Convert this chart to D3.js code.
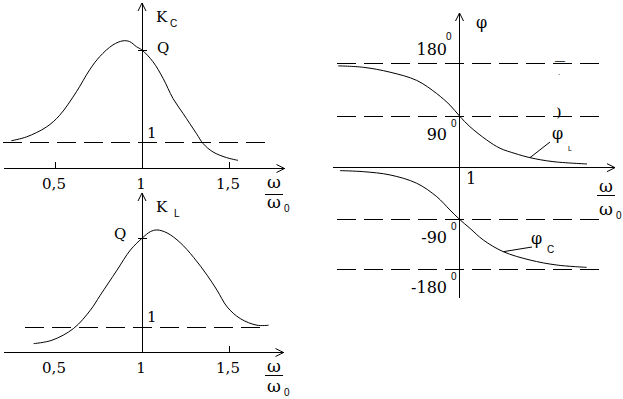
<!DOCTYPE html>
<html>
<head>
<meta charset="utf-8">
<script src="https://cdn.jsdelivr.net/npm/d3@7"></script>
<style>
  body { margin: 0; background: #fff; }
  svg { display: block; }
  text { fill: #000; }
</style>
</head>
<body>
<script>
// K_C(w/w0) curve
var kcW   = [0.249, 0.336, 0.451, 0.527, 0.623, 0.699, 0.757, 0.833, 0.891, 0.929, 0.968, 1.0, 1.063, 1.121, 1.178, 1.236, 1.313, 1.351, 1.408, 1.485, 1.552];
var kcVal = [1.07, 1.22, 1.61, 2.07, 2.99, 3.85, 4.37, 4.83, 4.99, 4.96, 4.76, 4.63, 4.17, 3.52, 2.73, 2.14, 1.35, 0.96, 0.63, 0.41, 0.30];

// K_L(w/w0) curve
var klW   = [0.377, 0.483, 0.607, 0.703, 0.760, 0.856, 0.933, 1.0, 1.048, 1.086, 1.144, 1.220, 1.297, 1.374, 1.431, 1.489, 1.565, 1.661, 1.728];
var klVal = [0.34, 0.48, 0.96, 1.70, 2.31, 3.33, 4.15, 4.63, 4.90, 4.97, 4.85, 4.45, 3.85, 3.13, 2.52, 1.84, 1.36, 1.09, 1.09];

// phase curves (degrees)
var phiLW = [0.303, 0.447, 0.601, 0.754, 0.869, 0.945, 1.0, 1.060, 1.156, 1.233, 1.319, 1.405, 1.537, 1.733];
var phiL  = [175.6, 173.2, 164.8, 150.8, 128.3, 108.6, 90, 71.4, 48.3, 33.8, 24.7, 17.4, 10.5, 6.4];
var phiCW = [0.313, 0.447, 0.601, 0.754, 0.869, 0.945, 1.0, 1.060, 1.137, 1.252, 1.405, 1.559, 1.731];
var phiC  = [-5.2, -7.0, -12.7, -27.2, -50.5, -73.7, -90, -106.2, -127.3, -148.3, -163.3, -172.3, -176.5];

var Q = 4.63;
var kTicks = [0.5, 1, 1.5];
var kTickLabels = ["0,5", "1", "1,5"];
var phaseLevels = [180, 90, -90, -180];
var phaseLabels = ["180", "90", "-90", "-180"];

var width = 623, height = 399;
var serif = "'DejaVu Serif', 'Liberation Serif', serif";
var sans = "'Liberation Sans', Arial, sans-serif";

var svg = d3.select("body").append("svg")
    .attr("width", width)
    .attr("height", height);

// open arrow head
svg.append("defs").append("marker")
    .attr("id", "arr")
    .attr("markerUnits", "userSpaceOnUse")
    .attr("markerWidth", 10).attr("markerHeight", 10)
    .attr("refX", 8).attr("refY", 4)
    .attr("orient", "auto")
    .style("overflow", "visible")
  .append("path")
    .attr("d", "M0,0L8,4L0,8")
    .attr("fill", "none")
    .attr("stroke", "#000");

function zip(xs, ys) { return xs.map(function(x, i) { return [x, ys[i]]; }); }

function fraction(x, yNum, yBar, yDen) {
  svg.append("text").attr("x", x).attr("y", yNum)
     .attr("text-anchor", "middle").style("font", "17px " + serif).text("ω");
  svg.append("line").attr("x1", x - 9).attr("x2", x + 9).attr("y1", yBar).attr("y2", yBar)
     .attr("stroke", "#000").attr("shape-rendering", "crispEdges");
  svg.append("text").attr("x", x).attr("y", yDen)
     .attr("text-anchor", "middle").style("font", "17px " + serif).text("ω");
  svg.append("text").attr("x", x + 10).attr("y", yDen + 4)
     .style("font", "10px " + sans).text("0");
}

/* ---------- amplitude panels ---------- */
function kPanel(o) {
  var x = d3.scaleLinear().domain([0.5, 1.5]).range([55, 229]);
  var y = d3.scaleLinear().domain([0, Q]).range([o.base, o.qY]);
  var g = svg.append("g");

  // dashed level 1
  g.append("line")
    .attr("x1", o.dash[0]).attr("x2", o.dash[1])
    .attr("y1", y(1)).attr("y2", y(1))
    .attr("stroke", "#000").attr("stroke-dasharray", "19,8")
    .attr("shape-rendering", "crispEdges");

  // x axis with ticks upward
  var xAxis = d3.axisBottom(x.copy().domain([x.invert(3), x.invert(o.xEnd)]).range([3, o.xEnd]))
    .tickValues(kTicks)
    .tickSizeInner(-6).tickSizeOuter(0).tickPadding(10)
    .tickFormat(function(d, i) { return kTickLabels[i]; });
  var ax = g.append("g").attr("transform", "translate(0," + o.base + ")").call(xAxis);
  ax.select(".domain").attr("marker-end", "url(#arr)").attr("shape-rendering", "crispEdges");
  ax.selectAll(".tick line").attr("shape-rendering", "crispEdges");
  ax.selectAll(".tick text").style("font", "15px " + serif).attr("dx", "-0.1em");
  if (o.hideHalf) ax.selectAll(".tick").filter(function(d) { return d === 0.5; }).select("line").remove();

  // y axis
  g.append("line")
    .attr("x1", x(1)).attr("x2", x(1))
    .attr("y1", o.base).attr("y2", o.top)
    .attr("stroke", "#000").attr("marker-end", "url(#arr)")
    .attr("shape-rendering", "crispEdges");
  // Q tick
  g.append("line")
    .attr("x1", x(1) - 4).attr("x2", x(1) + 5)
    .attr("y1", y(Q)).attr("y2", y(Q))
    .attr("stroke", "#000").attr("shape-rendering", "crispEdges");

  // curve
  g.append("path")
    .datum(zip(o.w, o.v))
    .attr("d", d3.line().x(function(d) { return x(d[0]); }).y(function(d) { return y(d[1]); }).curve(d3.curveCatmullRom))
    .attr("fill", "none").attr("stroke", "#000").attr("stroke-width", 1);

  // labels
  g.append("text").attr("x", 156).attr("y", o.top + 19).style("font", "15px " + serif).text("K");
  g.append("text").attr("x", o.subX).attr("y", o.top + 24).style("font", "10px " + sans).text(o.sub);
  g.append("text").attr("x", o.qX).attr("y", y(Q) + o.qDy).style("font", "15px " + serif).text("Q");
  g.append("text").attr("x", 147).attr("y", y(1) - 5).style("font", "15px " + serif).text("1");

  fraction(274, o.frac[0], o.frac[1], o.frac[2]);
}

kPanel({ base: 168, qY: 50, top: 3, xEnd: 284, dash: [3, 267], w: kcW, v: kcVal,
         sub: "C", subX: 170, qX: 157, qDy: 3, frac: [188, 194, 208], hideHalf: false });
kPanel({ base: 352, qY: 238.3, top: 193, xEnd: 283, dash: [25, 263], w: klW, v: klVal,
         sub: "L", subX: 174, qX: 114, qDy: 1, frac: [372, 375, 392], hideHalf: true });

/* ---------- phase panel ---------- */
var xR = d3.scaleLinear().domain([0, 1]).range([459.5 - 174, 459.5]);
var yR = d3.scaleLinear().domain([-180, -90, 90, 180]).range([269.3, 219.3, 116, 63.3]);
var gR = svg.append("g");

gR.selectAll(".lvl")
  .data(phaseLevels)
  .enter().append("line")
    .attr("class", "lvl")
    .attr("x1", 337).attr("x2", 604)
    .attr("y1", function(d) { return yR(d); }).attr("y2", function(d) { return yR(d); })
    .attr("stroke", "#000").attr("stroke-dasharray", "19,8")
    .attr("shape-rendering", "crispEdges");

// x axis
gR.append("line")
  .attr("x1", 333).attr("x2", 615)
  .attr("y1", yR(0)).attr("y2", yR(0))
  .attr("stroke", "#000").attr("marker-end", "url(#arr)")
  .attr("shape-rendering", "crispEdges");
// y axis
gR.append("line")
  .attr("x1", xR(1)).attr("x2", xR(1))
  .attr("y1", 298).attr("y2", 13)
  .attr("stroke", "#000").attr("marker-end", "url(#arr)")
  .attr("shape-rendering", "crispEdges");

var lineR = d3.line().x(function(d) { return xR(d[0]); }).y(function(d) { return yR(d[1]); }).curve(d3.curveCatmullRom);
gR.append("path").datum(zip(phiLW, phiL)).attr("d", lineR)
  .attr("fill", "none").attr("stroke", "#000");
gR.append("path").datum(zip(phiCW, phiC)).attr("d", lineR)
  .attr("fill", "none").attr("stroke", "#000");

// level labels with degree "0"
gR.selectAll(".plab")
  .data(phaseLevels)
  .enter().append("text")
    .attr("class", "plab")
    .attr("x", 447)
    .attr("y", function(d) { return d === 180 ? yR(d) - 8 : yR(d) + 24; })
    .attr("text-anchor", "end")
    .style("font", "16px " + serif)
    .text(function(d, i) { return phaseLabels[i]; });
gR.selectAll(".pdeg")
  .data(phaseLevels)
  .enter().append("text")
    .attr("class", "pdeg")
    .attr("x", function(d) { return d === 180 ? 446 : 451; })
    .attr("y", function(d) { return d === 180 ? yR(d) - 23 : yR(d) + 11; })
    .style("font", "10px " + sans)
    .text("0");

gR.append("text").attr("x", 476).attr("y", 28).style("font", "16px " + serif).text("φ");
gR.append("text").attr("x", 466).attr("y", yR(0) + 16).style("font", "16px " + serif).text("1");

// curve tags
gR.append("line").attr("x1", xR(1.405)).attr("y1", yR(17.4)).attr("x2", 550).attr("y2", 142).attr("stroke", "#000");
gR.append("text").attr("x", 552).attr("y", 139).style("font", "16px " + serif).text("φ");
gR.append("text").attr("x", 568).attr("y", 151).style("font", "7px " + sans).text("L");
gR.append("line").attr("x1", xR(1.252)).attr("y1", yR(-148.3)).attr("x2", 532).attr("y2", 247).attr("stroke", "#000");
gR.append("text").attr("x", 531).attr("y", 244).style("font", "16px " + serif).text("φ");
gR.append("text").attr("x", 547).attr("y", 253).style("font", "10px " + sans).text("C");

// stray marks at the right edge
gR.append("text").attr("x", 555).attr("y", 64).style("font", "10px " + sans).text("—");
gR.append("text").attr("x", 558).attr("y", 75).style("font", "8px " + sans).text(".");
gR.append("text").attr("x", 557).attr("y", 116).style("font", "bold 12px 'Liberation Serif', serif").text(")");

fraction(606, 192, 195, 215);
</script>
</body>
</html>
